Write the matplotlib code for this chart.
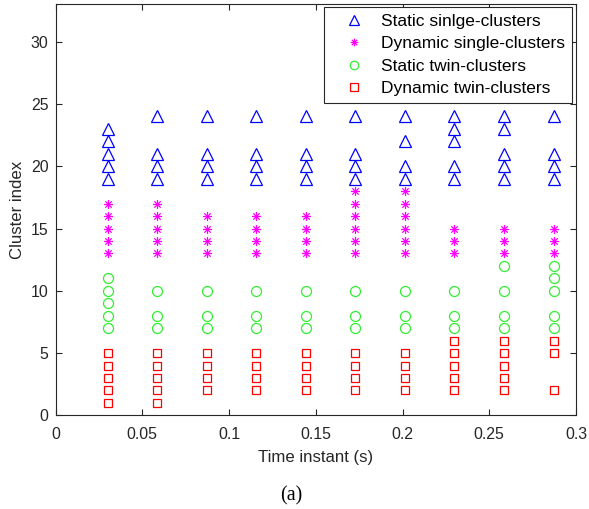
import matplotlib
matplotlib.use("Agg")
import matplotlib.pyplot as plt
from matplotlib.path import Path
import numpy as np

# ---- data ----
times = [0.0303, 0.0585, 0.0873, 0.1156, 0.1444, 0.1726, 0.2017, 0.2297, 0.2585, 0.2873]

static_single = [
    [19, 20, 21, 22, 23],
    [19, 20, 21, 24],
    [19, 20, 21, 24],
    [19, 20, 21, 24],
    [19, 20, 21, 24],
    [19, 20, 21, 24],
    [19, 20, 22, 24],
    [19, 20, 22, 23, 24],
    [19, 20, 21, 23, 24],
    [19, 20, 21, 24],
]
dynamic_single = [
    [13, 14, 15, 16, 17],
    [13, 14, 15, 16, 17],
    [13, 14, 15, 16],
    [13, 14, 15, 16],
    [13, 14, 15, 16],
    [13, 14, 15, 16, 17, 18],
    [13, 14, 15, 16, 17, 18],
    [13, 14, 15],
    [13, 14, 15],
    [13, 14, 15],
]
static_twin = [
    [7, 8, 9, 10, 11],
    [7, 8, 10],
    [7, 8, 10],
    [7, 8, 10],
    [7, 8, 10],
    [7, 8, 10],
    [7, 8, 10],
    [7, 8, 10],
    [7, 8, 10, 12],
    [7, 8, 10, 11, 12],
]
dynamic_twin = [
    [1, 2, 3, 4, 5],
    [1, 2, 3, 4, 5],
    [2, 3, 4, 5],
    [2, 3, 4, 5],
    [2, 3, 4, 5],
    [2, 3, 4, 5],
    [2, 3, 4, 5],
    [2, 3, 4, 5, 6],
    [2, 3, 4, 5, 6],
    [2, 5, 6],
]
labels = ["Static sinlge-clusters", "Dynamic single-clusters",
          "Static twin-clusters", "Dynamic twin-clusters"]
x_ticks = [0, 0.05, 0.1, 0.15, 0.2, 0.25, 0.3]
x_ticklabels = ["0", "0.05", "0.1", "0.15", "0.2", "0.25", "0.3"]
y_ticks = [0, 5, 10, 15, 20, 25, 30]

# asterisk marker (MATLAB style '*': + combined with x)
d = 0.7071
asterisk = Path(
    [(-1, 0), (1, 0), (0, -1), (0, 1), (-d, -d), (d, d), (-d, d), (d, -d)],
    [Path.MOVETO, Path.LINETO] * 4,
)

plt.rcParams['font.family'] = ['Liberation Sans', 'DejaVu Sans']
fig = plt.figure(figsize=(5.89, 5.09), dpi=100)
ax = fig.add_axes([55.5 / 589, 1 - 415.4 / 509, (576 - 55.5) / 589, (415.4 - 4.3) / 509])

def flat(series):
    xs, ys = [], []
    for t, vals in zip(times, series):
        for v in vals:
            xs.append(t)
            ys.append(v)
    return xs, ys

styles = [
    dict(marker='^', color=(0, 0, 1), ms=9.0),
    dict(marker=asterisk, color=(1, 0, 1), ms=6.5),
    dict(marker='o', color=(0.2, 0.93, 0.2), ms=7.2),
    dict(marker='s', color=(1, 0, 0), ms=6.3),
]
for series, st, lab in zip([static_single, dynamic_single, static_twin, dynamic_twin], styles, labels):
    xs, ys = flat(series)
    ax.plot(xs, ys, linestyle='none', marker=st['marker'], markersize=st['ms'],
            markerfacecolor='none', markeredgecolor=st['color'], markeredgewidth=0.9,
            label=lab)

ax.set_xlim(0, 0.3)
ax.set_ylim(0, 33)
ax.set_xticks(x_ticks)
ax.set_xticklabels(x_ticklabels)
ax.set_yticks(y_ticks)
ax.tick_params(direction='in', top=True, right=True, length=4, width=0.8,
               labelsize=11.4, colors='#262626')
ax.tick_params(axis='x', pad=8)
ax.tick_params(axis='y', pad=5)
for sp in ax.spines.values():
    sp.set_color('#262626')
    sp.set_linewidth(0.8)
ax.set_xlabel("Time instant (s)", fontsize=12.1, color='#262626', labelpad=6)
ax.set_ylabel("Cluster index", fontsize=12.1, color='#262626', labelpad=4)

leg = ax.legend(loc='upper right', bbox_to_anchor=(571.7 / 589, 1 - 6.7 / 509),
                bbox_transform=fig.transFigure, borderaxespad=0, fancybox=False,
                framealpha=1, edgecolor='#262626', fontsize=12.5, numpoints=1,
                handlelength=2.64, handletextpad=0.23, labelspacing=0.42,
                borderpad=0.4, markerscale=0.85)
leg.get_frame().set_linewidth(0.8)

fig.text(291.5 / 589, 1 - 496 / 509, "(a)", ha='center', va='center',
         fontsize=14.5, family='Liberation Serif')

fig.savefig("out.png", dpi=100)
